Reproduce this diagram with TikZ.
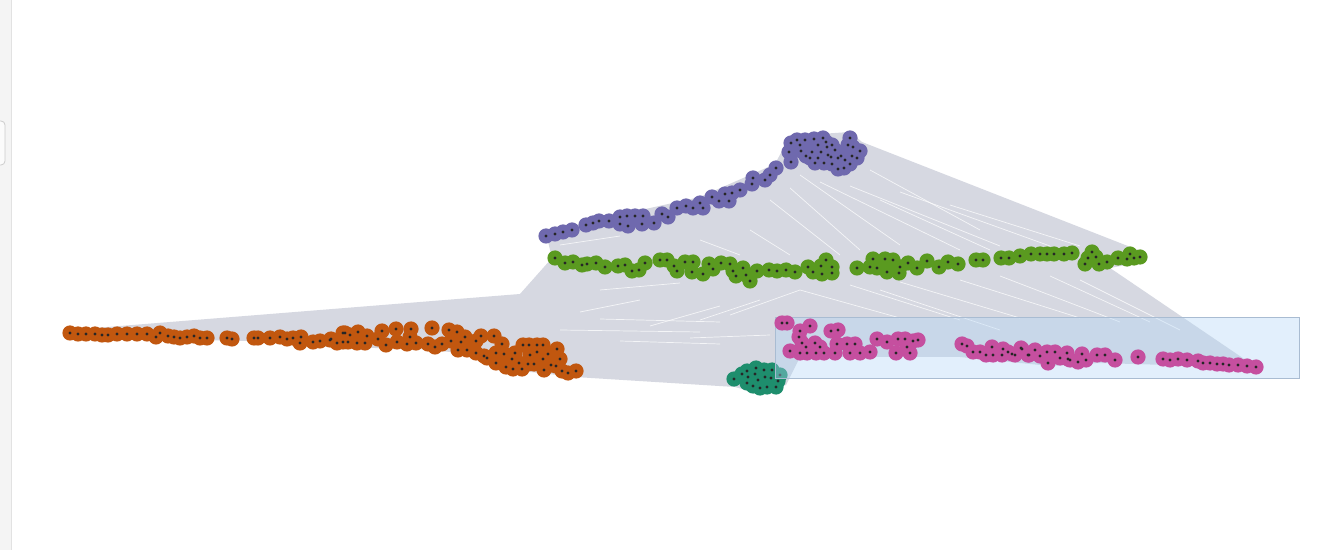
\documentclass[tikz,border=0pt]{standalone}
\usepackage{tikz}
\usetikzlibrary{calc}

\definecolor{edgegray}{HTML}{D6D8E1}
\definecolor{panelgray}{HTML}{F4F4F4}
\definecolor{panelline}{HTML}{E2E2E2}
\definecolor{selblue}{HTML}{B2D6F7}
\definecolor{selline}{HTML}{A9BCD2}
\definecolor{grpurple}{HTML}{6F69AE}
\definecolor{grgreen}{HTML}{5A9A20}
\definecolor{grorange}{HTML}{C1570F}
\definecolor{grteal}{HTML}{1E8E6D}
\definecolor{grpink}{HTML}{C54F9F}

% one group of points: halos, then the black centres
\newcommand{\plotgroup}[2]{%
  \foreach \px/\py in {#2} {\fill[#1] (\px,\py) circle (3.8pt);}
  \foreach \px/\py in {#2} {\fill[black!85] (\px,\py) circle (0.8pt);}
}

\begin{document}
\begin{tikzpicture}[
    x=0.5pt, y=-0.5pt,
    hullfill/.style={fill=edgegray},
    streak/.style={white, line width=0.35pt, opacity=0.75},
    selbox/.style={fill=selblue, fill opacity=0.37, draw=selline, line width=0.5pt}
]
\useasboundingbox (0,0) rectangle (1327,550);
\fill[white] (0,0) rectangle (1327,550);

% side panel
\fill[panelgray] (0,0) rectangle (11,550);
\draw[panelline] (11,0) -- (11,550);
\draw[gray!40, fill=white!60!panelgray, rounded corners=2pt] (-6,121) rectangle (5,165);

% edge bundle
\fill[hullfill] (70,330) -- (520,294) -- (552,258) -- (546,233) -- (600,219)
  -- (700,197) -- (775,164) -- (790,136) -- (850,132) -- (862,142)
  -- (1138,250) -- (1142,262) -- (1110,268) -- (1256,367) -- (1200,366)
  -- (1100,363) -- (1050,366) -- (960,357) -- (800,357) -- (786,385)
  -- (760,394) -- (735,387) -- (575,377) -- (540,373) -- (500,369)
  -- (460,353) -- (420,349) -- (330,347) -- (250,341) -- (70,338) -- cycle;

% light gaps between the edges
\foreach \xa/\ya/\xb/\yb in {800/175/900/245, 820/182/960/250, 850/186/1000/246,
    880/200/990/250, 790/188/860/250, 900/192/1050/246,
    950/205/1080/246, 770/200/840/255, 870/170/980/230,
    850/285/960/320, 900/282/1020/318, 960/280/1080/318,
    1000/276/1120/322, 800/290/900/318, 1050/276/1150/322,
    880/290/1000/330, 1080/280/1180/330,
    560/330/700/332, 600/319/720/322, 620/341/720/344,
    700/320/760/300, 730/315/800/290, 650/326/720/306,
    580/312/640/300, 690/338/770/335, 560/245/620/236,
    600/290/680/283, 750/230/790/255, 700/240/740/255}
  {\draw[streak] (\xa,\ya) -- (\xb,\yb);}

% teal group (below the selection)
\plotgroup{grteal}{734/379,742/374,748/377,756/368,755/374,747/383,
  753/386,760/388,765/377,772/370,771/378,767/387,776/387,780/375,
  747/371,764/370,758/380,778/381}

% selection box
\draw[selbox] (775,318) rectangle (1299,379);

% purple group
\plotgroup{grpurple}{546/236,555/234,563/232,572/230,
  586/225,593/223,599/221,609/221,620/217,627/216,635/216,643/216,
  620/224,628/226,642/224,654/223,
  662/214,668/217,677/208,686/206,693/208,700/203,703/208,712/197,
  719/201,725/194,729/201,732/193,740/190,
  753/178,752/184,765/180,770/175,776/168,
  791/143,789/152,791/162,801/151,814/139,823/138,827/147,812/152,
  810/158,821/152,831/157,841/156,850/138,848/145,853/147,860/151,
  852/156,824/163,832/164,838/169,844/168,815/163,805/140,797/140,
  818/145,835/150,857/158,800/145,806/156,818/158,828/155,845/160,
  838/158,850/164,826/142,832/145}

% green group
\plotgroup{grgreen}{555/258,565/263,573/262,582/265,587/264,596/263,
  605/267,618/266,625/265,632/271,639/270,645/263,660/260,667/260,
  674/266,677/271,685/262,693/262,692/272,703/274,709/264,713/269,
  721/263,730/264,733/271,736/276,743/268,746/275,750/281,757/271,
  769/270,777/271,786/270,795/272,808/267,813/272,821/266,822/274,
  826/260,832/267,832/273,
  857/268,870/267,873/259,877/268,885/259,887/272,893/260,899/273,
  900/267,908/263,917/268,927/261,939/267,948/262,958/264,976/260,
  983/260,1001/258,1009/258,1020/256,1031/254,1040/254,1047/254,
  1054/254,1064/254,1072/253,1092/252,1085/264,1099/264,1107/262,
  1118/258,1127/259,1134/258,1140/257,1096/257,1130/254,1088/258}

% orange group
\plotgroup{grorange}{70/333,78/334,86/334,95/334,102/335,108/335,
  117/334,127/334,137/334,147/334,156/337,160/333,168/336,174/337,
  180/338,187/337,194/336,200/338,207/338,227/338,232/339,254/338,
  258/338,270/338,280/337,287/339,293/338,301/337,300/343,313/342,
  320/341,331/339,337/343,343/342,343/333,
  330/340,345/333,350/335,358/332,367/336,348/342,357/343,365/343,
  382/331,378/339,386/345,396/329,397/342,407/344,411/329,410/337,
  416/343,428/344,432/328,435/347,442/344,449/330,451/341,457/332,
  461/342,465/337,458/350,467/350,476/341,476/353,481/336,484/356,
  487/358,494/336,496/353,496/363,502/344,504/354,512/359,506/367,
  513/369,515/353,523/345,519/363,522/369,528/364,529/345,530/355,
  537/345,537/352,534/364,543/345,543/359,544/370,548/354,551/365,
  557/349,560/359,556/366,562/371,568/373,576/371}

% pink group (selected)
\plotgroup{grpink}{782/323,787/323,800/331,810/326,799/337,802/343,
  806/347,815/343,820/347,790/351,800/353,807/353,816/353,824/353,
  831/331,838/330,837/344,847/344,855/344,835/353,850/353,860/353,
  870/352,877/339,887/342,898/339,905/339,907/347,896/353,910/353,
  918/340,913/341,
  962/344,967/346,973/352,980/352,986/355,992/347,993/355,1002/355,
  1003/349,1008/352,1012/354,1015/355,1021/348,1022/349,1028/355,
  1029/355,1035/350,1040/356,1047/352,1048/363,1055/352,1060/358,
  1068/359,1067/353,1070/360,1078/362,1082/354,1086/360,1097/355,
  1105/355,1115/360,
  1138/357,
  1163/359,1170/360,1178/359,1187/360,1198/361,1203/363,1210/363,
  1217/364,1223/364,1229/365,1238/365,1247/366,1256/367}
\end{tikzpicture}
\end{document}
